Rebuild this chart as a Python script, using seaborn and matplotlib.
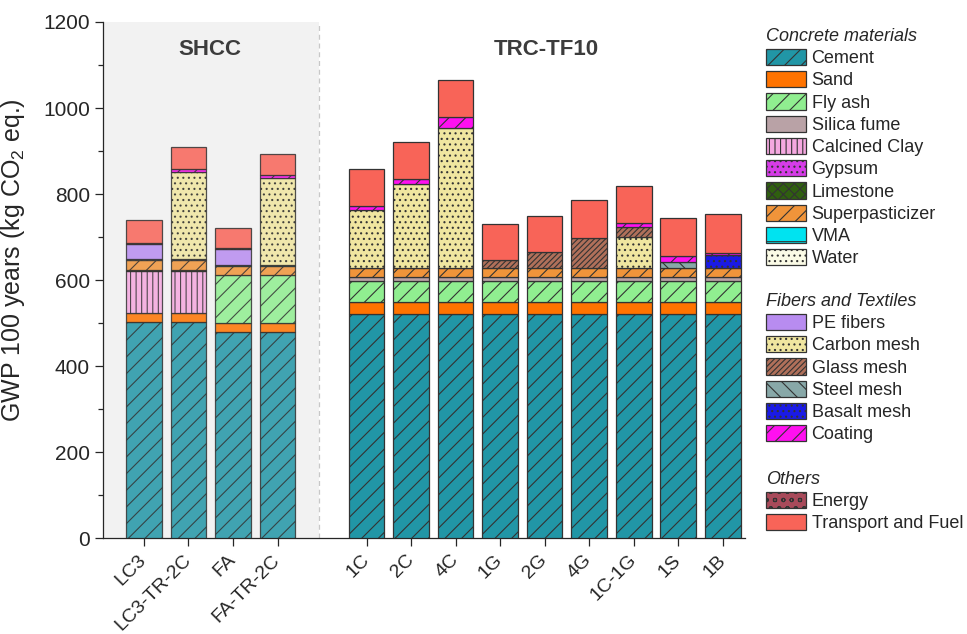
import matplotlib
matplotlib.use("Agg")
import matplotlib.pyplot as plt
from matplotlib.patches import Patch
from matplotlib.ticker import MultipleLocator
from matplotlib.transforms import ScaledTranslation
import pandas as pd
import seaborn as sns

# ---- data (kg CO2 eq. per component) ----
samples = ["LC3", "LC3-TR-2C", "FA", "FA-TR-2C",
           "1C", "2C", "4C", "1G", "2G", "4G", "1C-1G", "1S", "1B"]
gap_label = " "
order = samples[:4] + [gap_label] + samples[4:]

cement           = [503, 503, 480, 480, 522, 522, 522, 522, 522, 522, 522, 522, 522]
sand             = [20, 20, 20, 20, 26, 26, 26, 26, 26, 26, 26, 26, 26]
fly_ash          = [0, 0, 112, 112, 50, 50, 50, 50, 50, 50, 50, 50, 50]
silica_fume      = [0, 0, 0, 0, 9, 9, 9, 9, 9, 9, 9, 9, 9]
calcined_clay    = [98, 98, 0, 0, 0, 0, 0, 0, 0, 0, 0, 0, 0]
gypsum           = [0, 0, 0, 0, 0, 0, 0, 0, 0, 0, 0, 0, 0]
limestone        = [3, 3, 0, 0, 0, 0, 0, 0, 0, 0, 0, 0, 0]
superplasticizer = [22, 22, 21, 21, 20, 20, 20, 20, 20, 20, 20, 20, 20]
vma              = [0, 0, 3, 3, 0, 0, 0, 0, 0, 0, 0, 0, 0]
water            = [2, 2, 0, 0, 0, 0, 0, 0, 0, 0, 0, 0, 0]
pe_fibers        = [36, 0, 36, 0, 0, 0, 0, 0, 0, 0, 0, 0, 0]
carbon_mesh      = [0, 203, 0, 201, 136, 196, 326, 0, 0, 0, 72, 0, 0]
glass_mesh       = [0, 0, 0, 0, 0, 0, 0, 20, 37, 70, 25, 0, 0]
steel_mesh       = [0, 0, 0, 0, 0, 0, 0, 0, 0, 0, 0, 16, 0]
basalt_mesh      = [0, 0, 0, 0, 0, 0, 0, 0, 0, 0, 0, 0, 31]
coating          = [0, 8, 0, 8, 10, 13, 25, 0, 0, 0, 8, 13, 5]
energy           = [3, 0, 3, 0, 0, 0, 0, 0, 0, 0, 0, 0, 0]
transport        = [52, 50, 46, 48, 85, 85, 86, 83, 86, 88, 87, 89, 90]

# (label, values, face colour, hatch) in stacking order
layers = [
    ("Cement", cement, "#2196a6", "//"),
    ("Sand", sand, "#ff7300", ""),
    ("Fly ash", fly_ash, "#90ee90", "//"),
    ("Silica fume", silica_fume, "#b9a2a6", ""),
    ("Calcined Clay", calcined_clay, "#f5a8e0", "|||"),
    ("Limestone", limestone, "#2f5f0f", "xxx"),
    ("Gypsum", gypsum, "#d63ce8", "..."),
    ("Superpasticizer", superplasticizer, "#f0943a", "//"),
    ("VMA", vma, "#00e3f0", "-"),
    ("Water", water, "#fbfbe6", "..."),
    ("PE fibers", pe_fibers, "#b88cf0", ""),
    ("Carbon mesh", carbon_mesh, "#f0e6a0", "..."),
    ("Glass mesh", glass_mesh, "#b0705a", "//////"),
    ("Steel mesh", steel_mesh, "#88a8a8", "\\\\"),
    ("Basalt mesh", basalt_mesh, "#1a1ae6", "..."),
    ("Coating", coating, "#ff10f0", "//"),
    ("Energy", energy, "#a84a5a", "oo"),
    ("Transport and Fuel", transport, "#f86458", ""),
]
style = {name: (color, hatch) for name, _, color, hatch in layers}

legend_groups = [
    ("Concrete materials", ["Cement", "Sand", "Fly ash", "Silica fume", "Calcined Clay",
                            "Gypsum", "Limestone", "Superpasticizer", "VMA", "Water"]),
    ("Fibers and Textiles", ["PE fibers", "Carbon mesh", "Glass mesh", "Steel mesh",
                             "Basalt mesh", "Coating"]),
    ("Others", ["Energy", "Transport and Fuel"]),
]

# ---- styling ----
sns.set_style("ticks")
plt.rcParams["font.family"] = ["Liberation Sans", "DejaVu Sans"]
plt.rcParams["hatch.linewidth"] = 0.8
plt.rcParams["mathtext.fontset"] = "custom"
plt.rcParams["mathtext.rm"] = "Liberation Sans"

edge = "#333333"

fig = plt.figure(figsize=(9.67, 6.34), dpi=100)
ax = fig.add_axes([0.1065, 0.1514, 0.6635, 0.8139])

bottom = [0.0] * len(samples)
for name, values, color, hatch in layers:
    keep = [i for i, v in enumerate(values) if v > 0]
    if keep:
        df = pd.DataFrame({
            "sample": [samples[i] for i in keep],
            "value": [values[i] for i in keep],
            "base": [bottom[i] for i in keep],
        })
        sns.barplot(data=df, x="sample", y="value", order=order, bottom=df["base"].values,
                    color=color, hatch=hatch, edgecolor=edge, linewidth=0.9,
                    saturation=1, errorbar=None, width=0.8, ax=ax, zorder=3)
    bottom = [b + v for b, v in zip(bottom, values)]

# SHCC group sits on a grey band and is drawn slightly faded
split = 3.93
for p in ax.patches:
    if p.get_x() + p.get_width() / 2 < split:
        p.set_alpha(0.85)

ax.axvspan(-0.92, split, color="#f2f2f2", zorder=0, lw=0)
ax.axvline(split, color="#c8c8c8", ls=(0, (4, 3)), lw=0.9, zorder=1)

ax.set_xlim(-0.92, 13.49)
ax.set_ylim(0, 1200)
positions = [order.index(s) for s in samples]
ax.set_xticks(positions)
ax.set_xticklabels(samples, rotation=45, ha="right", va="center",
                   rotation_mode="anchor", fontsize=14)
shift = ScaledTranslation(5 / 100, 2 / 100, fig.dpi_scale_trans)
for lab in ax.get_xticklabels():
    lab.set_transform(lab.get_transform() + shift)
ax.yaxis.set_major_locator(MultipleLocator(200))
ax.yaxis.set_minor_locator(MultipleLocator(100))
ax.tick_params(axis="y", labelsize=15, length=6, width=0.9)
ax.tick_params(axis="y", which="minor", length=3.5, width=0.9)
ax.tick_params(axis="x", length=6, width=0.9, pad=8)
ax.set_xlabel("")
ax.set_ylabel("GWP 100 years (kg CO$_2$ eq.)", fontsize=18)
ax.yaxis.set_label_coords(-0.118, 0.539)
for side in ("top", "right"):
    ax.spines[side].set_visible(False)
for side in ("left", "bottom"):
    ax.spines[side].set_linewidth(0.9)

ax.text(1.48, 1135, "SHCC", ha="center", va="center", fontsize=16,
        fontweight="bold", color="#3c3c3c")
ax.text(9.04, 1135, "TRC-TF10", ha="center", va="center", fontsize=16,
        fontweight="bold", color="#3c3c3c")

# ---- grouped legend on the right ----
anchors_y = [1 - 28 / 634, 1 - 293 / 634, 1 - 471 / 634]
for (title, names), y in zip(legend_groups, anchors_y):
    handles = [Patch(facecolor=style[n][0], edgecolor=edge, hatch=style[n][1], lw=0.9)
               for n in names]
    fig.legend(handles, names, title=title, loc="upper left",
               bbox_to_anchor=(766 / 967, y), frameon=False, fontsize=13,
               title_fontproperties={"style": "italic", "size": 13},
               alignment="left", handlelength=2.2, handleheight=1.0,
               handletextpad=0.32, labelspacing=0.22, borderpad=0,
               borderaxespad=0)

fig.savefig("out.png", dpi=100)
